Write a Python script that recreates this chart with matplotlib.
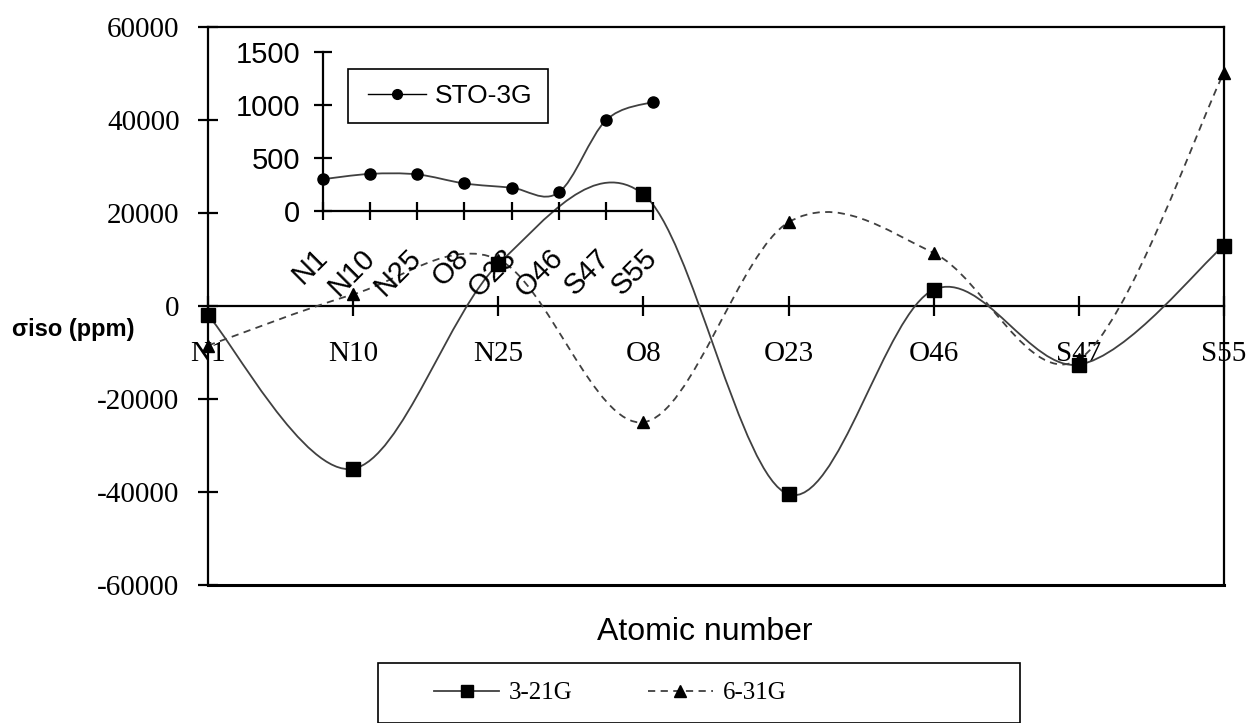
import numpy as np
import matplotlib
matplotlib.use('Agg')
import matplotlib.pyplot as plt
from matplotlib.path import Path
from matplotlib.patches import PathPatch, Rectangle
from matplotlib.lines import Line2D

# categories (atoms)
atoms = ['N1', 'N10', 'N25', 'O8', 'O23', 'O46', 'S47', 'S55']

# sigma iso (ppm) per basis set
basis_321g = [-2000, -35000, 9000, 24000, -40500, 3500, -12600, 13000]
basis_631g = [-8500, 2500, 10000, -25000, 18000, 11400, -11500, 50200]
basis_sto3g = [300, 350, 345, 260, 220, 175, 855, 1030]

line_grey = '#404040'


def smooth_path(xs, ys):
    # excel-like smoothed line: catmull-rom segments as cubic beziers
    pts = np.column_stack([xs, ys]).astype(float)
    n = len(pts)
    verts = [pts[0]]
    codes = [Path.MOVETO]
    for i in range(n - 1):
        p0 = pts[i - 1] if i > 0 else pts[i]
        p1 = pts[i]
        p2 = pts[i + 1]
        p3 = pts[i + 2] if i + 2 < n else pts[i + 1]
        c1 = p1 + (p2 - p0) / 6.0
        c2 = p2 - (p3 - p1) / 6.0
        verts += [c1, c2, p2]
        codes += [Path.CURVE4] * 3
    return Path(verts, codes)


fig = plt.figure(figsize=(12.51, 7.23), dpi=100)

# ---- main chart ----
ax = fig.add_axes([208 / 1251, 1 - 585 / 723, 1016 / 1251, 558 / 723])
x = np.arange(len(atoms))

ax.add_patch(PathPatch(smooth_path(x, basis_321g), fill=False, ec=line_grey, lw=1.3, zorder=3))
ax.add_patch(PathPatch(smooth_path(x, basis_631g), fill=False, ec=line_grey, lw=1.3,
                       linestyle=(0, (4, 3)), zorder=3))
ax.plot(x, basis_321g, ls='none', marker='s', ms=10, color='black', zorder=4, clip_on=False)
ax.plot(x, basis_631g, ls='none', marker='^', ms=9, color='black', zorder=4, clip_on=False)

ax.set_xlim(0, 7)
ax.set_ylim(-60000, 60000)
ax.set_yticks([-60000, -40000, -20000, 0, 20000, 40000, 60000])
ax.set_yticklabels(['-60000', '-40000', '-20000', '0', '20000', '40000', '60000'])
ax.set_xticks(x)
ax.set_xticklabels(atoms)
ax.spines['bottom'].set_position(('data', 0))
for s in ax.spines.values():
    s.set_linewidth(1.6)
ax.axhline(-60000, color='black', lw=2.2, clip_on=False)
ax.tick_params(axis='both', direction='inout', length=15, width=1.6, labelsize=21)
ax.tick_params(axis='y', pad=13)
ax.tick_params(axis='x', pad=18)
for lab in ax.get_xticklabels() + ax.get_yticklabels():
    lab.set_fontfamily('Liberation Serif')

fig.text(12 / 1251, 1 - 330 / 723, 'σiso (ppm)', fontsize=17, fontweight='bold',
         family='Liberation Sans', ha='left', va='center')
fig.text(705 / 1251, 1 - 632 / 723, 'Atomic number', fontsize=23,
         family='Liberation Sans', ha='center', va='center')

# bottom legend
fig.patches.append(Rectangle((378 / 1251, 0), 642 / 1251, 1 - 663 / 723, transform=fig.transFigure,
                             fill=False, ec='black', lw=1.2))
h1 = Line2D([], [], color=line_grey, lw=1.3, marker='s', ms=9, mfc='black', mec='black')
h2 = Line2D([], [], color=line_grey, lw=1.3, ls=(0, (4, 3)), marker='^', ms=8, mfc='black', mec='black')
leg = fig.legend([h1, h2], ['3-21G', '6-31G'], loc='center left', ncol=2, frameon=False,
                 bbox_to_anchor=(424 / 1251, 1 - 693 / 723), handlelength=2.6, handletextpad=0.4,
                 columnspacing=3.0, borderaxespad=0,
                 prop={'family': 'Liberation Serif', 'size': 18})

# ---- inset (STO-3G) ----
ins = fig.add_axes([323 / 1251, 1 - 211 / 723, 330 / 1251, 159 / 723])
ins.patch.set_alpha(0)
ins.add_patch(PathPatch(smooth_path(x, basis_sto3g), fill=False, ec=line_grey, lw=1.3, zorder=3))
ins.plot(x, basis_sto3g, ls='none', marker='o', ms=8, color='black', zorder=4, clip_on=False)
ins.set_xlim(0, 7)
ins.set_ylim(0, 1500)
ins.set_yticks([0, 500, 1000, 1500])
ins.set_xticks(x)
ins.set_xticklabels(atoms, rotation=45, ha='right', va='center', rotation_mode='anchor')
for s in ['top', 'right']:
    ins.spines[s].set_visible(False)
for s in ['left', 'bottom']:
    ins.spines[s].set_linewidth(1.6)
ins.tick_params(axis='both', direction='inout', length=13, width=1.6, labelsize=21)
ins.tick_params(axis='y', pad=10)
ins.tick_params(axis='x', pad=24)
for lab in ins.get_xticklabels() + ins.get_yticklabels():
    lab.set_fontfamily('Liberation Sans')

fig.patches.append(Rectangle((348 / 1251, 1 - 123 / 723), 200 / 1251, 54 / 723, transform=fig.transFigure,
                             fill=False, ec='black', lw=1.2))
h3 = Line2D([], [], color='black', lw=1.0, marker='o', ms=7)
fig.legend([h3], ['STO-3G'], loc='center left', frameon=False,
           bbox_to_anchor=(368 / 1251, 1 - 96 / 723), handlelength=2.2, handletextpad=0.35,
           borderaxespad=0, borderpad=0, prop={'family': 'Liberation Sans', 'size': 19})

fig.savefig('out.png', dpi=100)
